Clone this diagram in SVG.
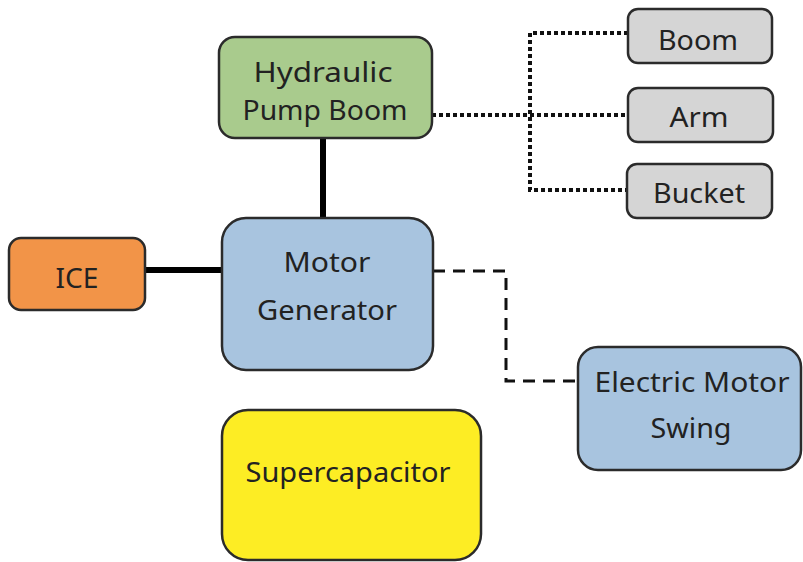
<svg xmlns="http://www.w3.org/2000/svg" width="803" height="562" viewBox="0 0 803 562">
<style>
.box{stroke:#2b2b2b;stroke-width:2.5}
.t{font-family:"Noto Sans","Open Sans",sans-serif;font-size:27.5px;fill:#222;text-anchor:middle}
.solid{stroke:#000;stroke-width:6;fill:none}
.dot{stroke:#111;stroke-width:4;stroke-dasharray:4 3;fill:none}
.dash{stroke:#111;stroke-width:3;stroke-dasharray:12 8;fill:none}
</style>
<rect width="803" height="562" fill="#fff"/>
<g id="connectors">
<line class="solid" x1="323" y1="138" x2="323" y2="218"/>
<line class="solid" x1="145" y1="270" x2="222" y2="270"/>
<polyline class="dot" points="432,115 628,115"/>
<polyline class="dot" points="628,33 530,33 530,190 627,190"/>
<polyline class="dash" points="433,271 506,271 506,381 578,381"/>
</g>
<g id="hydraulic-pump-boom">
<rect class="box" x="219" y="37" width="213" height="101" rx="16" fill="#A9CB8D"/>
<text class="t" x="323" y="82" textLength="139" lengthAdjust="spacingAndGlyphs">Hydraulic</text>
<text class="t" x="325" y="120" textLength="165" lengthAdjust="spacingAndGlyphs">Pump Boom</text>
</g>
<g id="boom">
<rect class="box" x="628" y="9" width="144" height="54" rx="10" fill="#D5D5D5"/>
<text class="t" x="698" y="50" textLength="80" lengthAdjust="spacingAndGlyphs">Boom</text>
</g>
<g id="arm">
<rect class="box" x="628" y="88" width="145" height="54" rx="10" fill="#D5D5D5"/>
<text class="t" x="699" y="127" textLength="59" lengthAdjust="spacingAndGlyphs">Arm</text>
</g>
<g id="bucket">
<rect class="box" x="627" y="164" width="145" height="54" rx="10" fill="#D5D5D5"/>
<text class="t" x="699" y="203" textLength="92" lengthAdjust="spacingAndGlyphs">Bucket</text>
</g>
<g id="ice">
<rect class="box" x="9" y="238" width="136" height="72" rx="12" fill="#F29448"/>
<text class="t" x="77" y="288" textLength="43" lengthAdjust="spacingAndGlyphs">ICE</text>
</g>
<g id="motor-generator">
<rect class="box" x="222" y="218" width="211" height="152" rx="24" fill="#A8C4DF"/>
<text class="t" x="327" y="272" textLength="87" lengthAdjust="spacingAndGlyphs">Motor</text>
<text class="t" x="327" y="320" textLength="140" lengthAdjust="spacingAndGlyphs">Generator</text>
</g>
<g id="electric-motor-swing">
<rect class="box" x="578" y="347" width="223" height="123" rx="20" fill="#A8C4DF"/>
<text class="t" x="692" y="392" textLength="195" lengthAdjust="spacingAndGlyphs">Electric Motor</text>
<text class="t" x="691" y="438" textLength="81" lengthAdjust="spacingAndGlyphs">Swing</text>
</g>
<g id="supercapacitor">
<rect class="box" x="222" y="410" width="259" height="150" rx="26" fill="#FDED24"/>
<text class="t" x="348" y="482" textLength="205" lengthAdjust="spacingAndGlyphs">Supercapacitor</text>
</g>
</svg>
